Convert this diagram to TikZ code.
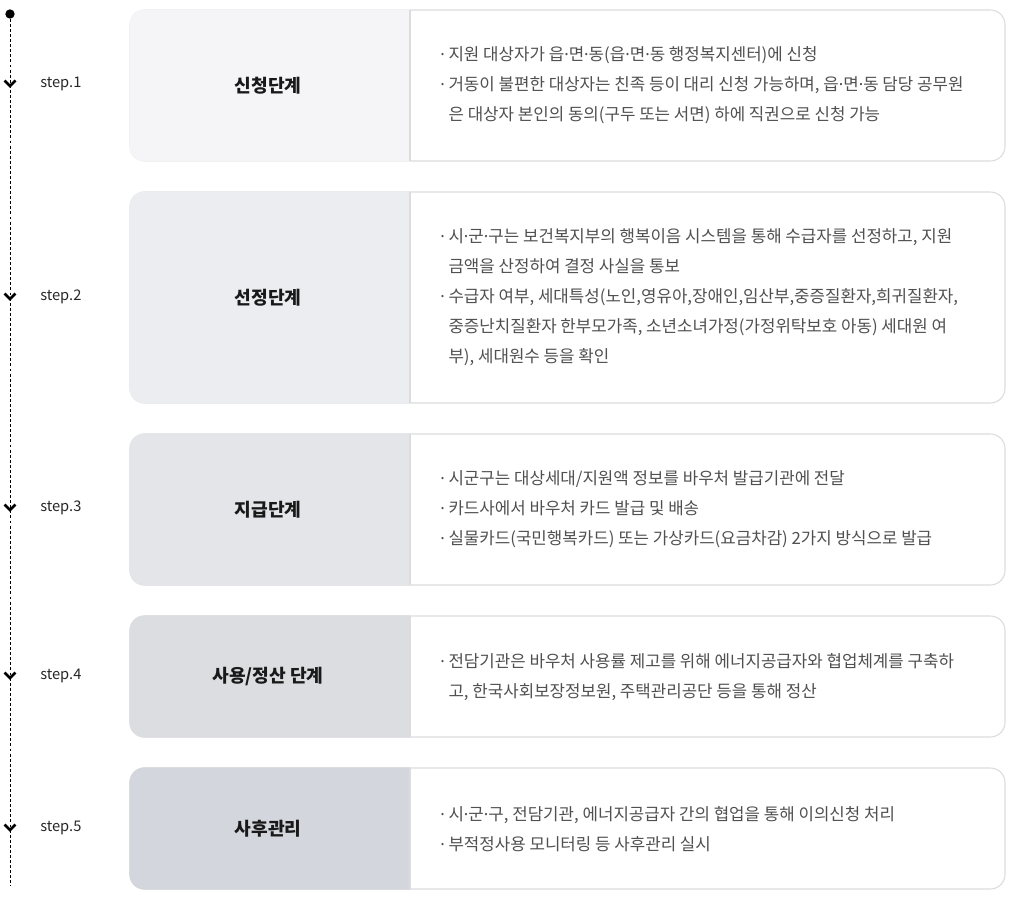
\documentclass[tikz,border=0pt]{standalone}
\usepackage{fontspec}
\setmainfont{Noto Sans CJK KR}
\newfontfamily\dotfont{Noto Sans}
\newcommand\md{{\dotfont ·}}
\usepackage{xcolor}
\usepackage{tikz}
\usetikzlibrary{calc}
\usetikzlibrary{positioning}

\definecolor{fillA}{HTML}{F5F5F7}
\definecolor{fillB}{HTML}{ECEDF0}
\definecolor{fillC}{HTML}{E4E5E9}
\definecolor{fillD}{HTML}{DCDDE1}
\definecolor{fillE}{HTML}{D3D6DC}
\definecolor{edgegray}{HTML}{DCDCDC}
\definecolor{bodygray}{HTML}{505050}

\begin{document}
\begin{tikzpicture}[x=0.75pt,y=-0.75pt,
	cardline/.style={draw=edgegray,line width=0.8pt},
	steplabel/.style={anchor=west,inner sep=0pt,font=\fontsize{11}{12}\selectfont,text=black!85},
	title/.style={inner sep=0pt,font=\fontsize{13.6}{15}\selectfont\bfseries,text=black!90},
	body/.style={anchor=west,align=left,inner sep=0pt,font=\fontsize{12.6}{22.5}\selectfont,text=bodygray},
	dot/.style={circle,fill=black,inner sep=0pt,minimum size=7pt},
	chev/.style={line width=2pt,line join=miter}]
	\useasboundingbox (0,0) rectangle (1012,899);
	% cards
	\foreach \ya/\yb/\col in {10/161/fillA,192/403/fillB,434/585/fillC,616/737/fillD,768/889/fillE}{
		\draw[cardline,fill=white,rounded corners=11pt] (130,\ya) rectangle (1005,\yb);
		\begin{scope}
			\clip (120,\ya-5) rectangle (410,\yb+5);
			\filldraw[\col,line width=1pt,rounded corners=11pt] (130,\ya) rectangle (440,\yb);
		\end{scope}
		\draw[cardline] (410,\ya) -- (410,\yb);
	}
	% timeline
	\node[dot] (start) at (10,14) {};
	\coordinate (end) at (10,886);
	\draw[dashed,dash pattern=on 2.2pt off 1.6pt,line width=0.6pt] (start) -- (end);
	\foreach \y in {84,297,508,676,828}
		\draw[chev] (4.5,\y-3.5) -- (10,\y+2) -- (15.5,\y-3.5);
	% step labels
	\node[steplabel] (step1) at (40,84) {step.1};
	\node[steplabel] (step2) at (40,297) {step.2};
	\node[steplabel] (step3) at (40,508) {step.3};
	\node[steplabel] (step4) at (40,676) {step.4};
	\node[steplabel] (step5) at (40,828) {step.5};
	% titles
	\node[title] (apply) at (268,85.5) {신청단계};
	\node[title] (select) at (268,297.5) {선정단계};
	\node[title] (pay) at (268,509.5) {지급단계};
	\node[title] (settle) at (268,676.5) {사용/정산 단계};
	\node[title] (after) at (268,828.5) {사후관리};
	% descriptions
	\node[body] (applytxt) at (440,85.5) {\md\ 지원 대상자가 읍\md 면\md 동(읍\md 면\md 동 행정복지센터)에 신청\\
		\md\ 거동이 불편한 대상자는 친족 등이 대리 신청 가능하며, 읍\md 면\md 동 담당 공무원\\
		\hphantom{\md\ }은 대상자 본인의 동의(구두 또는 서면) 하에 직권으로 신청 가능};
	\node[body] (selecttxt) at (440,297.5) {\md\ 시\md 군\md 구는 보건복지부의 행복이음 시스템을 통해 수급자를 선정하고, 지원\\
		\hphantom{\md\ }금액을 산정하여 결정 사실을 통보\\
		\md\ 수급자 여부, 세대특성(노인,영유아,장애인,임산부,중증질환자,희귀질환자,\\
		\hphantom{\md\ }중증난치질환자 한부모가족, 소년소녀가정(가정위탁보호 아동) 세대원 여\\
		\hphantom{\md\ }부), 세대원수 등을 확인};
	\node[body] (paytxt) at (440,509.5) {\md\ 시군구는 대상세대/지원액 정보를 바우처 발급기관에 전달\\
		\md\ 카드사에서 바우처 카드 발급 및 배송\\
		\md\ 실물카드(국민행복카드) 또는 가상카드(요금차감) 2가지 방식으로 발급};
	\node[body] (settletxt) at (440,677) {\md\ 전담기관은 바우처 사용률 제고를 위해 에너지공급자와 협업체계를 구축하\\
		\hphantom{\md\ }고, 한국사회보장정보원, 주택관리공단 등을 통해 정산};
	\node[body] (aftertxt) at (440,829) {\md\ 시\md 군\md 구, 전담기관, 에너지공급자 간의 협업을 통해 이의신청 처리\\
		\md\ 부적정사용 모니터링 등 사후관리 실시};
\end{tikzpicture}
\end{document}
